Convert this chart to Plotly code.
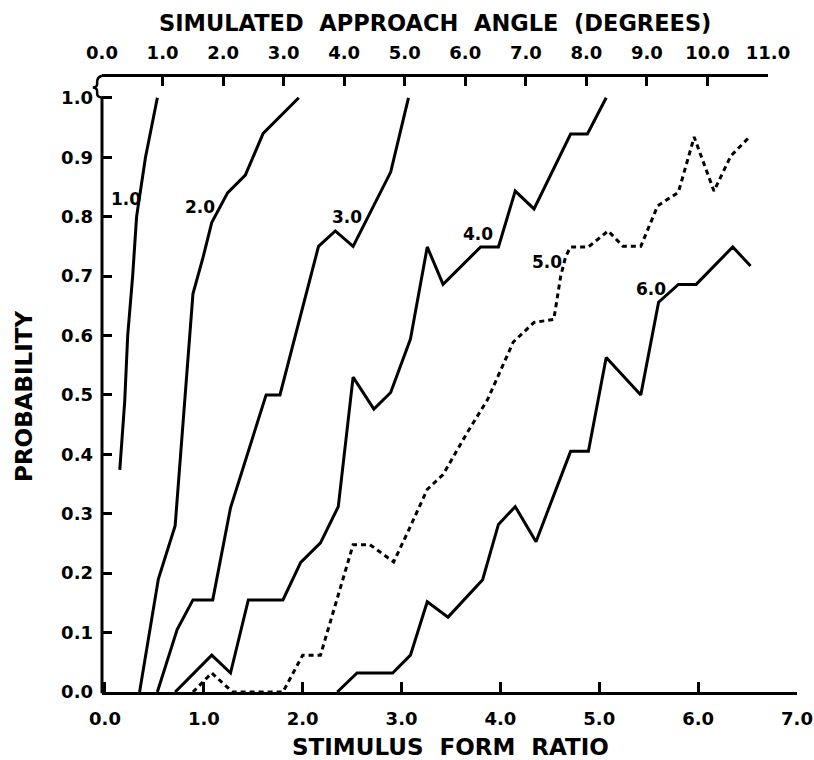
import plotly.graph_objects as go

# Curve parameters (labels drawn next to each curve)
curve_names = ["1.0", "2.0", "3.0", "4.0", "5.0", "6.0"]

# Stimulus form ratio (x) and probability (y) for each curve
ratio_10 = [0.15, 0.20, 0.23, 0.28, 0.32, 0.41, 0.53]
prob_10 = [0.374, 0.49, 0.60, 0.70, 0.80, 0.90, 1.00]

ratio_20 = [0.35, 0.54, 0.71, 0.81, 0.89, 0.99, 1.08, 1.24, 1.42, 1.60, 1.96]
prob_20 = [0.0, 0.19, 0.28, 0.49, 0.67, 0.73, 0.79, 0.84, 0.87, 0.94, 1.00]

ratio_30 = [0.53, 0.73, 0.89, 1.09, 1.27, 1.63, 1.77, 2.16, 2.33, 2.51, 2.89, 3.07]
prob_30 = [0.0, 0.105, 0.155, 0.155, 0.31, 0.50, 0.50, 0.75, 0.776, 0.75, 0.875, 1.00]

ratio_40 = [0.71, 1.08, 1.27, 1.45, 1.80, 1.98, 2.18, 2.36, 2.51, 2.72, 2.89, 3.09,
            3.26, 3.42, 3.80, 3.98, 4.15, 4.34, 4.71, 4.88, 5.07]
prob_40 = [0.0, 0.062, 0.032, 0.155, 0.155, 0.218, 0.251, 0.312, 0.53, 0.476, 0.504, 0.594,
           0.749, 0.686, 0.749, 0.749, 0.843, 0.813, 0.939, 0.939, 1.00]

ratio_50 = [0.89, 1.08, 1.29, 1.80, 2.00, 2.18, 2.51, 2.68, 2.92, 3.06, 3.26, 3.42, 3.67,
            3.87, 4.13, 4.34, 4.54, 4.61, 4.66, 4.71, 4.89, 5.09, 5.24, 5.42, 5.59, 5.80,
            5.96, 6.16, 6.33, 6.53]
prob_50 = [0.0, 0.032, 0.0, 0.0, 0.062, 0.062, 0.248, 0.248, 0.219, 0.268, 0.341, 0.366, 0.438,
           0.492, 0.589, 0.622, 0.627, 0.70, 0.733, 0.749, 0.749, 0.776, 0.75, 0.75, 0.818, 0.841,
           0.934, 0.843, 0.902, 0.936]

ratio_60 = [2.35, 2.55, 2.91, 3.09, 3.26, 3.47, 3.82, 3.98, 4.15, 4.36, 4.71, 4.89, 5.07,
            5.42, 5.60, 5.80, 5.98, 6.35, 6.53]
prob_60 = [0.0, 0.032, 0.032, 0.062, 0.152, 0.126, 0.189, 0.282, 0.312, 0.253, 0.405, 0.405,
           0.563, 0.50, 0.656, 0.686, 0.686, 0.749, 0.717]

# Where each curve label sits (ratio, probability)
label_ratio = [0.21, 0.96, 2.45, 3.77, 4.47, 5.52]
label_prob = [0.83, 0.816, 0.80, 0.771, 0.723, 0.678]

# Axis ticks
ratio_ticks = [0.0, 1.0, 2.0, 3.0, 4.0, 5.0, 6.0, 7.0]
angle_ticks = [0.0, 1.0, 2.0, 3.0, 4.0, 5.0, 6.0, 7.0, 8.0, 9.0, 10.0, 11.0]
prob_ticks = [0.0, 0.1, 0.2, 0.3, 0.4, 0.5, 0.6, 0.7, 0.8, 0.9, 1.0]

curves_x = [ratio_10, ratio_20, ratio_30, ratio_40, ratio_50, ratio_60]
curves_y = [prob_10, prob_20, prob_30, prob_40, prob_50, prob_60]

FONT = "DejaVu Sans"
INK = "#000000"

fig = go.Figure()

for name, xs, ys in zip(curve_names, curves_x, curves_y):
    dotted = name == "5.0"
    fig.add_trace(go.Scatter(
        x=xs, y=ys, mode="lines", name=name,
        line=dict(color=INK, width=3, dash="5px,4px" if dotted else "solid"),
        showlegend=False, hoverinfo="skip",
    ))

# invisible trace to activate the top (angle) axis
fig.add_trace(go.Scatter(x=[angle_ticks[0]], y=[0], xaxis="x2", yaxis="y", mode="markers",
                         marker=dict(opacity=0), showlegend=False, hoverinfo="skip"))

for name, lx, ly in zip(curve_names, label_ratio, label_prob):
    fig.add_annotation(x=lx, y=ly, text=name, showarrow=False,
                       font=dict(family=FONT, size=17, color=INK, weight="bold"))

tick_font = dict(family=FONT, size=18, color=INK, weight="bold")

fig.update_layout(
    width=814, height=760,
    margin=dict(l=102, r=17, t=77, b=68),
    paper_bgcolor="white", plot_bgcolor="rgba(0,0,0,0)",
    xaxis=dict(
        range=[-0.03, 7.0], tickvals=ratio_ticks,
        ticktext=[f"{v:.1f}" for v in ratio_ticks],
        showgrid=False, zeroline=False, automargin=False,
        showline=True, linecolor=INK, linewidth=3,
        ticks="inside", ticklen=10, tickwidth=2.5, tickcolor=INK,
        tickfont=tick_font, ticklabelstandoff=8,
    ),
    xaxis2=dict(
        side="top", anchor="y",
        domain=[0, 0.9583], range=[0, 11.0],
        tickvals=angle_ticks, ticktext=[f"{v:.1f}" for v in angle_ticks],
        showgrid=False, zeroline=False, automargin=False,
        showline=True, linecolor=INK, linewidth=3,
        ticks="inside", ticklen=9, tickwidth=2.5, tickcolor=INK,
        tickfont=tick_font, ticklabelstandoff=8,
    ),
    yaxis=dict(
        range=[0, 1.035], tickvals=prob_ticks,
        ticktext=[f"{v:.1f}" for v in prob_ticks],
        showgrid=False, zeroline=False, automargin=False,
        showline=False,
        ticks="inside", ticklen=10, tickwidth=2.5, tickcolor=INK,
        tickfont=tick_font, ticklabelstandoff=8,
    ),
)

title_font = dict(family=FONT, size=22.5, color=INK, weight="bold")
fig.add_annotation(xref="paper", yref="paper", x=0.479, y=1.088,
                   text="SIMULATED  APPROACH  ANGLE  (DEGREES)", showarrow=False,
                   xanchor="center", yanchor="middle", font=title_font)
fig.add_annotation(xref="paper", yref="paper", x=0.502, y=-0.0894,
                   text="STIMULUS  FORM  RATIO", showarrow=False,
                   xanchor="center", yanchor="middle",
                   font=dict(family=FONT, size=23, color=INK, weight="bold"))
fig.add_annotation(xref="paper", yref="paper", x=-0.112, y=0.48,
                   text="PROBABILITY", showarrow=False, textangle=-90,
                   xanchor="center", yanchor="middle",
                   font=dict(family=FONT, size=23, color=INK, weight="bold"))

# probability axis line, with a break brace just under the top axis
fig.add_shape(type="line", xref="paper", yref="paper", x0=0, x1=0, y0=-0.002, y1=0.9675,
              line=dict(color=INK, width=3))
fig.add_shape(type="path", xref="paper", yref="paper",
              path="M 0,1.002 Q -0.007,1.0 -0.007,0.992 L -0.007,0.988 "
                   "Q -0.007,0.984 -0.013,0.983 Q -0.007,0.982 -0.007,0.977 "
                   "L -0.007,0.973 Q -0.007,0.967 0,0.9665",
              line=dict(color=INK, width=2.5))

fig.write_html("out.html")
